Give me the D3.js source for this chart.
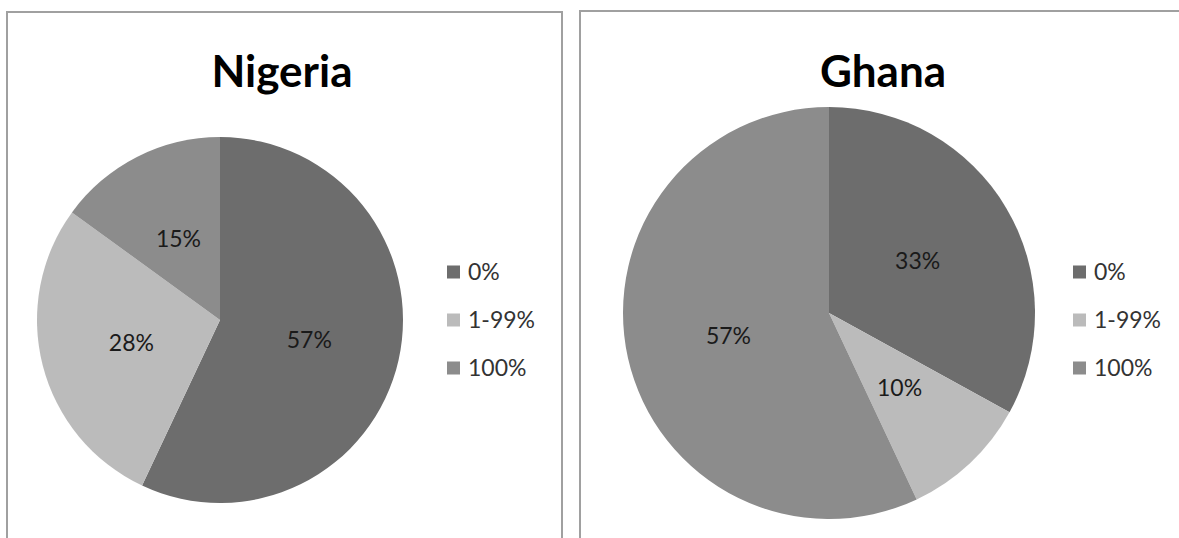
<!DOCTYPE html>
<html>
<head>
<meta charset="utf-8">
<script src="https://cdn.jsdelivr.net/npm/d3@7"></script>
<style>
  body { margin: 0; background: #fff; }
  svg { display: block; }
</style>
</head>
<body>
<svg width="1179" height="538"></svg>
<script>
// data
let categories = ["0%", "1-99%", "100%"];
let nigeriaValues = [57, 28, 15];
let ghanaValues = [33, 10, 57];
let countries = ["Nigeria", "Ghana"];

let svg = d3.select("svg");

let color = d3.scaleOrdinal()
    .domain(categories)
    .range(["#6d6d6d", "#bbbbbb", "#8c8c8c"]);

let panels = [
    {name: countries[0], values: nigeriaValues, x: 7, y: 12, w: 555, cx: 220, cy: 320, r: 183, titleX: 282, legendX: 446},
    {name: countries[1], values: ghanaValues, x: 580, y: 11, w: 620, cx: 829, cy: 313, r: 206, titleX: 883, legendX: 1072}
];

let pie = d3.pie().sort(null).value(function(d) { return d.value; });

panels.forEach(function(p) {
    let g = svg.append("g");

    g.append("rect")
        .attr("x", p.x)
        .attr("y", p.y)
        .attr("width", p.w)
        .attr("height", 560)
        .attr("fill", "#fff")
        .attr("stroke", "#a0a0a0")
        .attr("stroke-width", 2);

    g.append("text")
        .attr("x", p.titleX)
        .attr("y", 87)
        .attr("text-anchor", "middle")
        .style("font", "bold 44px Lato, sans-serif")
        .attr("fill", "#000")
        .text(p.name);

    let data = categories.map(function(c, i) { return {key: c, value: p.values[i]}; });
    let arc = d3.arc().innerRadius(0).outerRadius(p.r);

    let pg = g.append("g").attr("transform", "translate(" + p.cx + "," + p.cy + ")");

    pg.selectAll("path")
        .data(pie(data))
        .enter().append("path")
        .attr("d", arc)
        .attr("fill", function(d) { return color(d.data.key); });

    pg.selectAll("text")
        .data(pie(data))
        .enter().append("text")
        .attr("transform", function(d) { return "translate(" + arc.centroid(d) + ")"; })
        .attr("text-anchor", "middle")
        .attr("dy", "0.36em")
        .style("font", "23px Lato, sans-serif")
        .attr("fill", "#1a1a1a")
        .text(function(d) { return d.data.value + "%"; });

    let legend = g.selectAll(".legend")
        .data(categories)
        .enter().append("g")
        .attr("class", "legend")
        .attr("transform", function(d, i) { return "translate(" + p.legendX + "," + (272 + i * 48) + ")"; });

    legend.append("rect")
        .attr("x", 1)
        .attr("y", -6.5)
        .attr("width", 13)
        .attr("height", 13)
        .attr("fill", function(d) { return color(d); });

    legend.append("text")
        .attr("x", 22)
        .attr("dy", "0.36em")
        .style("font", "23px Lato, sans-serif")
        .attr("fill", "#333")
        .text(function(d) { return d; });
});
</script>
</body>
</html>
